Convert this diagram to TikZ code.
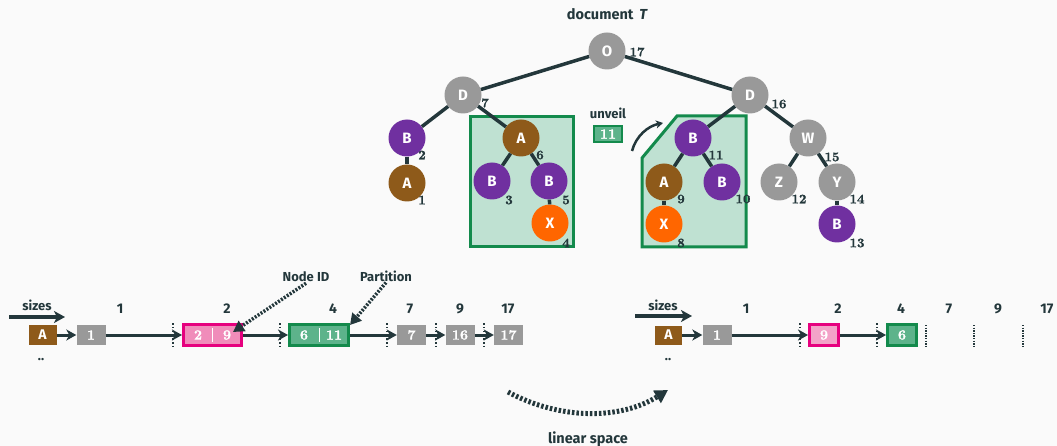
\documentclass[tikz,border=0pt]{standalone}
\usepackage{fontspec}
\setsansfont{Fira Sans}
\newfontfamily\numfont{lmroman10-bold}[Extension=.otf, FakeBold=1.2]
\usetikzlibrary{arrows.meta,calc}

\definecolor{bgc}{HTML}{FAFAFA}
\definecolor{ink}{HTML}{23373B}
\definecolor{gry}{HTML}{999999}
\definecolor{pur}{HTML}{7030A0}
\definecolor{brn}{HTML}{8E5A1A}
\definecolor{org}{HTML}{FF6600}
\definecolor{grn}{HTML}{138A4C}
\definecolor{grnlight}{HTML}{BFE1D2}
\definecolor{grnmid}{HTML}{5DB38B}
\definecolor{pnk}{HTML}{E6007E}
\definecolor{pnklight}{HTML}{F08CBA}
\definecolor{pnkpale}{HTML}{F3A2C8}

\tikzset{
  tn/.style={circle, minimum size=37pt, inner sep=0pt, text=white,
    font=\sffamily\bfseries\fontsize{15}{15}\selectfont},
  tgry/.style={tn, fill=gry},
  tpur/.style={tn, fill=pur},
  tbrn/.style={tn, fill=brn},
  torg/.style={tn, fill=org},
  edge/.style={draw=ink, line width=3.5pt},
  num/.style={inner sep=0pt, text=ink, font=\numfont\fontsize{13}{13}\selectfont},
  lbl/.style={inner sep=1pt, text=ink, font=\sffamily\bfseries\fontsize{13}{13}\selectfont},
  hdr/.style={inner sep=0pt, text=ink, font=\sffamily\bfseries\fontsize{14}{14}\selectfont},
  partbox/.style={draw=grn, line width=3pt, fill=grnlight},
  cell/.style={minimum width=29pt, minimum height=20pt, inner sep=0pt, text=white,
    font=\numfont\fontsize{14}{14}\selectfont},
  gcell/.style={cell, fill=gry},
  acell/.style={cell, fill=brn, minimum width=28pt, font=\sffamily\bfseries\fontsize{14}{14}\selectfont},
  pcell/.style={cell, draw=pnk, line width=3pt, fill=pnklight, minimum height=21pt},
  qcell/.style={cell, draw=grn, line width=3pt, fill=grnmid, minimum height=21pt},
  divider/.style={draw=white, line width=1pt},
  cellnum/.style={inner sep=0pt, text=white, font=\numfont\fontsize{14}{14}\selectfont},
  link/.style={draw=ink, line width=3pt, -{Stealth[length=10pt,width=11pt,inset=3pt]}},
  sizearrow/.style={draw=ink, line width=3.5pt, -{Stealth[length=11pt,width=12pt,inset=3pt]}},
  tick/.style={draw=ink, line width=1.5pt, dash pattern=on 1.5pt off 2.3pt},
  slot/.style={draw=ink, line width=1.5pt, dash pattern=on 1.3pt off 1.3pt},
  pointer/.style={draw=ink, line width=3.5pt, dash pattern=on 2pt off 1.5pt,
    -{Triangle[length=11pt,width=12pt]}},
  bigpointer/.style={draw=ink, line width=5pt, dash pattern=on 2.5pt off 2pt,
    -{Triangle[length=13pt,width=14pt]}},
}

\begin{document}
\begin{tikzpicture}[x=1pt,y=-1pt]
\fill[bgc] (0,0) rectangle (1057,446);
\useasboundingbox (0,0) rectangle (1057,446);

% partitions of the tree
\draw[partbox] (470,117) rectangle (573,247);
\draw[partbox] (677,116) -- (746,116) -- (746,247) -- (642,247) -- (642,158) -- cycle;

% title
\node[inner sep=0pt, text=ink, font=\sffamily\bfseries\fontsize{14.5}{14.5}\selectfont] (title) at (607,14) {document \,{\itshape T}};

% tree nodes
\node[tgry] (O) at (607,51) {O};
\node[tgry] (D1) at (463,95) {D};
\node[tpur] (B1) at (407,138) {B};
\node[tbrn] (A1) at (407,183) {A};
\node[tbrn] (A2) at (521,138) {A};
\node[tpur] (B2) at (492,181) {B};
\node[tpur] (B3) at (549,181) {B};
\node[torg] (X1) at (550,223) {X};
\node[tgry] (D2) at (750,95) {D};
\node[tpur] (B4) at (693,138) {B};
\node[tbrn] (A3) at (664,182) {A};
\node[tpur] (B5) at (722,182) {B};
\node[torg] (X2) at (664,224) {X};
\node[tgry] (W) at (808,138) {W};
\node[tgry] (Z) at (779,182) {Z};
\node[tgry] (Y) at (837,182) {Y};
\node[tpur] (B6) at (837,224) {B};

% tree edges
\draw[edge] (O) -- (D1);
\draw[edge] (O) -- (D2);
\draw[edge] (D1) -- (B1);
\draw[edge] (B1) -- (A1);
\draw[edge] (D1) -- (A2);
\draw[edge] (A2) -- (B2);
\draw[edge] (A2) -- (B3);
\draw[edge] (B3) -- (X1);
\draw[edge] (D2) -- (B4);
\draw[edge] (B4) -- (A3);
\draw[edge] (B4) -- (B5);
\draw[edge] (A3) -- (X2);
\draw[edge] (D2) -- (W);
\draw[edge] (W) -- (Z);
\draw[edge] (W) -- (Y);
\draw[edge] (Y) -- (B6);

% post-order numbers
\node[num] (nO) at (637,52) {17};
\node[num] (nD1) at (485,103) {7};
\node[num] (nB1) at (422,155) {2};
\node[num] (nA1) at (422,200) {1};
\node[num] (nA2) at (540,155) {6};
\node[num] (nB2) at (509,200) {3};
\node[num] (nB3) at (566,200) {5};
\node[num] (nX1) at (566,243) {4};
\node[num] (nD2) at (779,104) {16};
\node[num] (nB4) at (716,155) {11};
\node[num] (nA3) at (681,199) {9};
\node[num] (nB5) at (743,199) {10};
\node[num] (nX2) at (681,243) {8};
\node[num] (nW) at (832,157) {15};
\node[num] (nZ) at (799,199) {12};
\node[num] (nY) at (857,199) {14};
\node[num] (nB6) at (857,243) {13};

% unveil step
\node[lbl] (unveil) at (608,113) {unveil};
\node[cell, draw=grn, fill=grnmid, line width=2pt, minimum width=28pt, minimum height=16pt] (uv) at (608,134) {11};
\coordinate (uvs) at (632,151);
\coordinate (uve) at (663,123);
\draw[draw=ink, line width=2.5pt, -{Stealth[length=7pt,width=8pt,inset=2pt]}] (uvs) .. controls (636,136) and (648,126) .. (uve);

% ---------- left list ----------
\node[lbl] (sizesL) at (37,305) {sizes};
\coordinate (sL1) at (9,317);
\coordinate (sL2) at (65,317);
\draw[sizearrow] (sL1) -- (sL2);

\node[acell] (LA) at (42.5,335) {A};
\node[lbl] (dotsL) at (41,360) {..};
\node[gcell] (L1) at (91,335) {1};
\node[pcell, minimum width=58pt] (LP) at (212.5,335) {};
\draw[divider] ($(LP.north)+(0,5)$) -- ($(LP.south)+(0,-5)$);
\node[cellnum] (LP2) at (198,335) {2};
\node[cellnum] (LP9) at (227,335) {9};
\node[qcell, minimum width=59pt] (LG) at (319,335) {};
\draw[divider] ($(LG.north)+(0,5)$) -- ($(LG.south)+(0,-5)$);
\node[cellnum] (LG6) at (304,335) {6};
\node[cellnum] (LG11) at (334,335) {11};
\node[gcell] (L7) at (411.5,335) {7};
\node[gcell] (L16) at (460,335) {16};
\node[gcell] (L17) at (508.5,335) {17};

\draw[tick] (173,323) -- (173,347);
\draw[tick] (280,323) -- (280,347);
\draw[tick] (387,323) -- (387,347);
\draw[tick] (436,323) -- (436,347);
\draw[tick] (484,323) -- (484,347);

\draw[link] (LA) -- (L1);
\draw[link] (L1) -- (LP);
\draw[link] (LP) -- (LG);
\draw[link] (LG) -- (L7);
\draw[link] (L7) -- (L16);
\draw[link] (L16) -- (L17);

\node[hdr] (hL1) at (120,309) {1};
\node[hdr] (hL2) at (227,309) {2};
\node[hdr] (hL4) at (333,309) {4};
\node[hdr] (hL7) at (410,309) {7};
\node[hdr] (hL9) at (460,309) {9};
\node[hdr] (hL17) at (508,309) {17};

\node[lbl] (nid) at (306,277) {Node ID};
\node[lbl] (part) at (386,276) {Partition};
\coordinate (nidtip) at (233,332);
\coordinate (parttip) at (350,325);
\draw[pointer] (nid.south) -- (nidtip);
\draw[pointer] (part.south) -- (parttip);

% ---------- right list ----------
\node[lbl] (sizesR) at (663,305) {sizes};
\coordinate (sR1) at (635,316);
\coordinate (sR2) at (692,316);
\draw[sizearrow] (sR1) -- (sR2);

\node[acell, minimum width=27pt, minimum height=19pt] (RA) at (668.5,335) {A};
\node[lbl] (dotsR) at (668,360) {..};
\node[gcell] (R1) at (717,335) {1};
\node[pcell, fill=pnkpale] (RP) at (824,335) {9};
\node[qcell] (RG) at (902,335) {6};

\draw[tick] (800,323) -- (800,347);
\draw[tick] (877,323) -- (877,347);
\draw[slot] (926,325) -- (926,347);
\draw[slot] (974,325) -- (974,347);
\draw[slot] (1023,325) -- (1023,347);

\draw[link] (RA) -- (R1);
\draw[link] (R1) -- (RP);
\draw[link] (RP) -- (RG);

\node[hdr] (hR1) at (746,309) {1};
\node[hdr] (hR2) at (838,309) {2};
\node[hdr] (hR4) at (901,309) {4};
\node[hdr] (hR7) at (949,309) {7};
\node[hdr] (hR9) at (998,309) {9};
\node[hdr] (hR17) at (1047,309) {17};

% mapping into linear space
\coordinate (ls1) at (508,392);
\coordinate (ls2) at (668,390);
\draw[bigpointer] (ls1) .. controls (560,420) and (620,420) .. (ls2);
\node[inner sep=0pt, text=ink, font=\sffamily\bfseries\fontsize{14.5}{14.5}\selectfont] (linsp) at (588,439) {linear space};
\end{tikzpicture}
\end{document}
